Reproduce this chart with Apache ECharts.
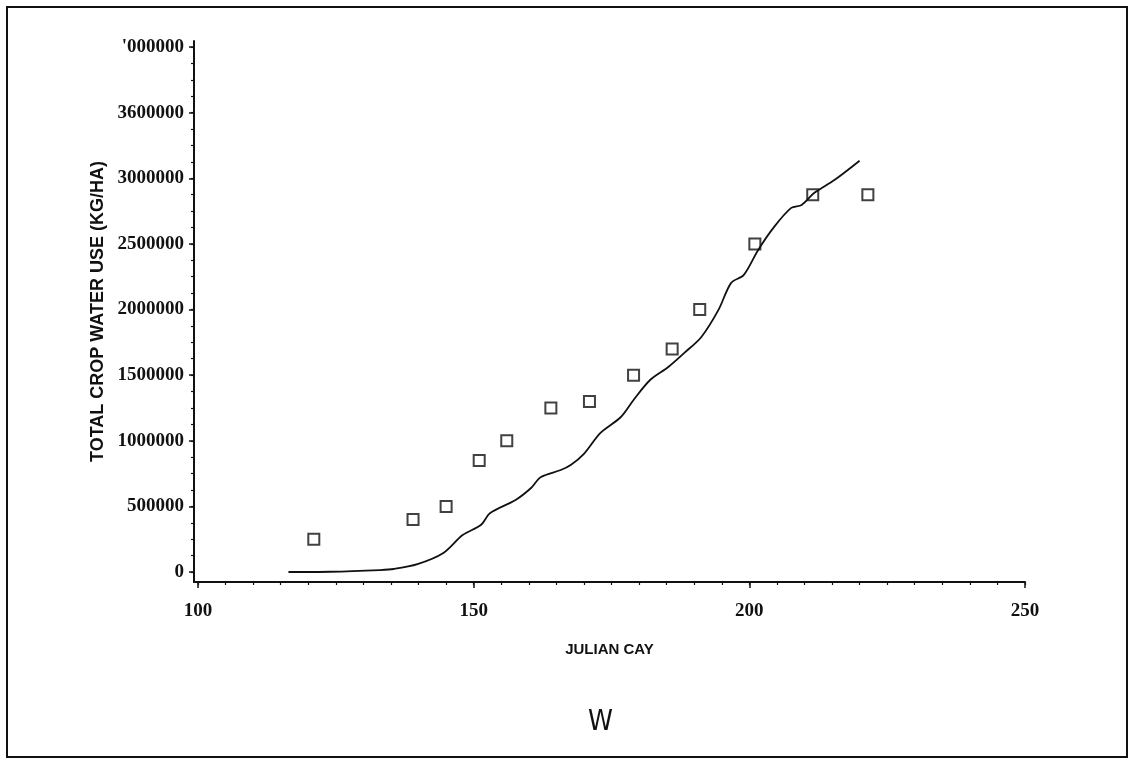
<!DOCTYPE html>
<html>
<head>
    <meta charset="utf-8">
    <title>Total crop water use</title>
    <script src="https://cdn.jsdelivr.net/npm/echarts@6.0.0/dist/echarts.min.js"></script>
    <style>
        body { margin: 0; background: #fff; }
        #container { width: 1130px; height: 760px; }
    </style>
</head>
<body>
<div id="container"></div>
<script type="text/javascript">
    // modelled curve (julian day, kg/ha)
    var curveDays = [116.4, 124, 133, 135.5, 139.8, 144.5, 148, 151.3, 153, 157.6, 160.4, 162.2, 165.8, 167.6, 170,
        173, 176.7, 179, 182, 185.3, 188.2, 191.3, 194.4, 196.7, 199, 201.6, 204.5, 207.6, 209.5, 211.8, 215.5, 220];
    var curveValues = [0, 2000, 15000, 23000, 60000, 145000, 282000, 358000, 450000, 549000, 640000, 724000, 777000, 815000, 900000,
        1060000, 1181000, 1311000, 1463000, 1562000, 1669000, 1791000, 1997000, 2203000, 2264000, 2454000, 2630000, 2774000, 2797000, 2889000, 2988000, 3133000];

    // measured points
    var obsDays = [121, 139, 145, 151, 156, 164, 171, 179, 186, 191, 201, 211.5, 221.5];
    var obsValues = [250000, 400000, 500000, 850000, 1000000, 1250000, 1300000, 1500000, 1700000, 2000000, 2500000, 2875000, 2875000];

    // tick labels as printed
    var xTickValues = [100, 150, 200, 250];
    var xTickLabels = ['100', '150', '200', '250'];
    var yTickValues = [0, 500000, 1000000, 1500000, 2000000, 2500000, 3000000, 3500000, 4000000];
    var yTickLabels = ['0', '500000', '1000000', '1500000', '2000000', '2500000', '3000000', '3600000', "'000000"];

    var xMinor = [];
    for (var d = 100; d <= 250; d += 5) xMinor.push(d);
    var yMinor = [];
    for (var v = 0; v <= 4000000; v += 125000) yMinor.push(v);

    var curveData = curveDays.map(function (x, i) { return [x, curveValues[i]]; });
    var obsData = obsDays.map(function (x, i) { return [x, obsValues[i]]; });

    var xMin = 99.27, xMax = 250;
    var yMin = -76000, yMax = 4045700;

    var dom = document.getElementById('container');
    var myChart = echarts.init(dom);
    var option = {
        backgroundColor: '#fff',
        animation: false,
        title: {
            text: 'W',
            left: 583,
            top: 704,
            textStyle: { fontFamily: "'Liberation Sans Narrow', 'DejaVu Sans Condensed', 'Liberation Sans', sans-serif", fontSize: 28, fontWeight: 'normal', color: '#111' }
        },
        graphic: [{
            type: 'rect',
            shape: { x: 7, y: 7, width: 1120, height: 750 },
            style: { fill: 'none', stroke: '#111', lineWidth: 2 },
            silent: true
        }],
        grid: { left: 194, right: 105, top: 41, bottom: 178 },
        xAxis: [{
            type: 'value',
            min: xMin,
            max: xMax,
            name: 'JULIAN CAY',
            nameLocation: 'middle',
            nameGap: 60,
            nameTextStyle: { fontFamily: 'Liberation Sans', fontWeight: 'bold', fontSize: 15, color: '#111' },
            axisLine: { onZero: false, lineStyle: { color: '#111', width: 2 } },
            axisTick: { customValues: xTickValues, length: 6, lineStyle: { color: '#111', width: 1.5 } },
            axisLabel: {
                customValues: xTickValues,
                margin: 20,
                fontFamily: 'Liberation Serif', fontWeight: 'bold', fontSize: 19, color: '#111',
                formatter: function (val) { return xTickLabels[xTickValues.indexOf(val)]; }
            },
            splitLine: { show: false }
        }, {
            // minor ticks
            type: 'value',
            position: 'bottom',
            min: xMin,
            max: xMax,
            axisLine: { show: false, onZero: false },
            axisTick: { customValues: xMinor, length: 3, lineStyle: { color: '#111', width: 1.2 } },
            axisLabel: { show: false },
            splitLine: { show: false }
        }],
        yAxis: [{
            type: 'value',
            min: yMin,
            max: yMax,
            name: 'TOTAL CROP WATER USE (KG/HA)',
            nameLocation: 'middle',
            nameGap: 84,
            nameTextStyle: { fontFamily: 'Liberation Sans', fontWeight: 'bold', fontSize: 18, color: '#111' },
            axisLine: { onZero: false, lineStyle: { color: '#111', width: 2 } },
            axisTick: { customValues: yTickValues, length: 5, lineStyle: { color: '#111', width: 1.5 } },
            axisLabel: {
                customValues: yTickValues,
                margin: 10,
                fontFamily: 'Liberation Serif', fontWeight: 'bold', fontSize: 19, color: '#111',
                formatter: function (val) { return yTickLabels[yTickValues.indexOf(val)]; }
            },
            splitLine: { show: false }
        }, {
            type: 'value',
            position: 'left',
            min: yMin,
            max: yMax,
            axisLine: { show: false, onZero: false },
            axisTick: { customValues: yMinor, length: 3, lineStyle: { color: '#111', width: 1.2 } },
            axisLabel: { show: false },
            splitLine: { show: false }
        }],
        series: [{
            type: 'line',
            data: curveData,
            showSymbol: false,
            smooth: 0.3,
            lineStyle: { color: '#111', width: 1.8 }
        }, {
            type: 'scatter',
            data: obsData,
            symbol: 'rect',
            symbolSize: 11,
            itemStyle: { color: '#fff', borderColor: '#111', borderWidth: 2 }
        }]
    };
    myChart.setOption(option);
</script>
</body>
</html>
